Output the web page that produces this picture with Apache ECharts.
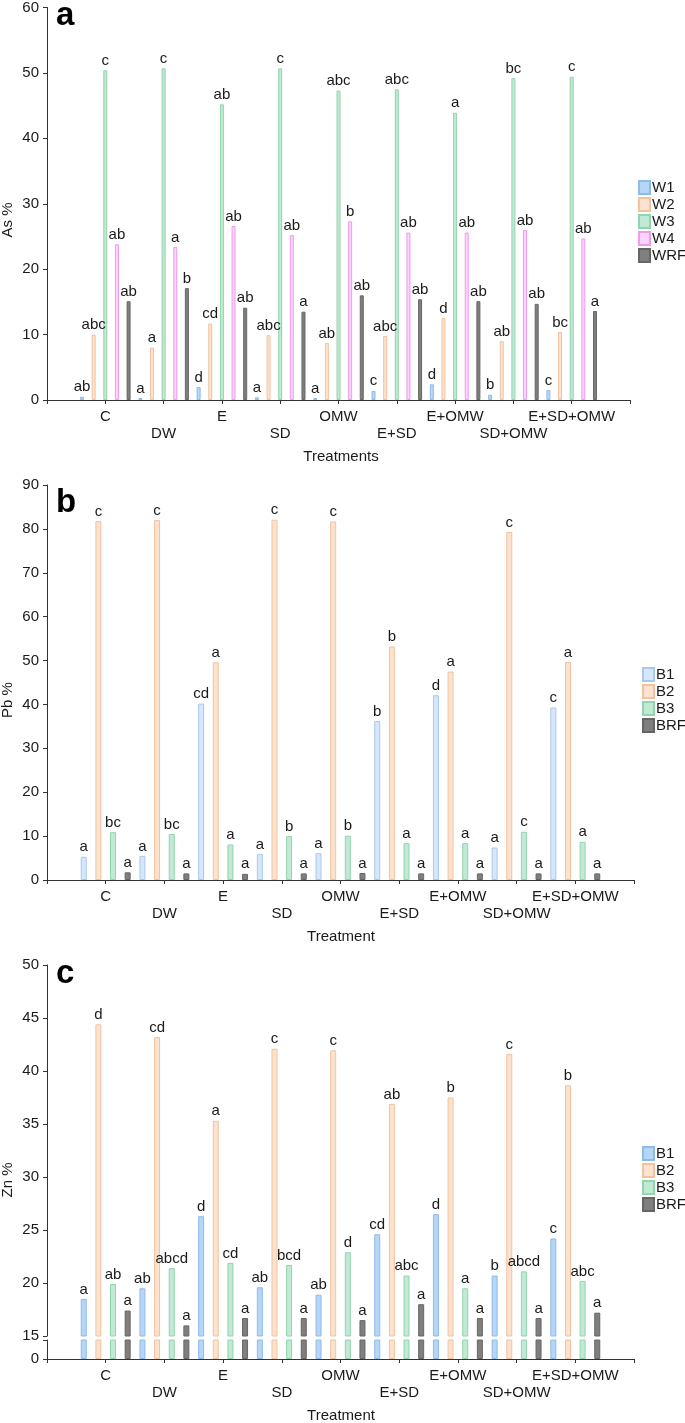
<!DOCTYPE html>
<html><head><meta charset="utf-8">
<script src="https://cdn.jsdelivr.net/npm/echarts@6/dist/echarts.min.js"></script>
<style>
html,body{margin:0;padding:0;background:#fff;width:685px;height:1423px;overflow:hidden}
.p{position:absolute;left:0;width:685px}
#pa{top:0;height:470px}#pb{top:470px;height:475px}#pc{top:945px;height:478px}
</style>
</head><body>
<div id="pa" class="p"></div><div id="pb" class="p"></div><div id="pc" class="p"></div>
<script>
// ---------- data ----------
const categories = ['C','DW','E','SD','OMW','E+SD','E+OMW','SD+OMW','E+SD+OMW'];

// Panel a: As %
const asW1  = [0.5, 0.3, 2.0, 0.4, 0.3, 1.4, 2.4, 0.8, 1.5];
const asW2  = [10.0, 8.0, 11.7, 9.9, 8.7, 9.8, 12.5, 9.0, 10.4];
const asW3  = [50.4, 50.7, 45.2, 50.7, 47.3, 47.5, 43.9, 49.2, 49.4];
const asW4  = [23.8, 23.4, 26.6, 25.2, 27.3, 25.6, 25.6, 26.0, 24.7];
const asWRF = [15.1, 17.1, 14.1, 13.5, 16.0, 15.4, 15.1, 14.7, 13.6];
const asW1Sig  = ['ab','a','d','a','a','c','d','b','c'];
const asW2Sig  = ['abc','a','cd','abc','ab','abc','d','ab','bc'];
const asW3Sig  = ['c','c','ab','c','abc','abc','a','bc','c'];
const asW4Sig  = ['ab','a','ab','ab','b','ab','ab','ab','ab'];
const asWRFSig = ['ab','b','ab','a','ab','ab','ab','ab','a'];

// Panel b: Pb %
const pbB1  = [5.3, 5.5, 40.2, 5.9, 6.1, 36.2, 42.1, 7.4, 39.3];
const pbB2  = [81.8, 82.0, 49.6, 82.1, 81.7, 53.2, 47.5, 79.3, 49.7];
const pbB3  = [10.9, 10.5, 8.1, 10.0, 10.1, 8.4, 8.4, 11.0, 8.7];
const pbBRF = [1.75, 1.5, 1.4, 1.5, 1.6, 1.5, 1.5, 1.5, 1.5];
const pbB1Sig  = ['a','a','cd','a','a','b','d','a','c'];
const pbB2Sig  = ['c','c','a','c','c','b','a','c','a'];
const pbB3Sig  = ['bc','bc','a','b','b','a','a','c','a'];
const pbBRFSig = ['a','a','a','a','a','a','a','a','a'];

// Panel c: Zn %
const znB1  = [18.5, 19.5, 26.3, 19.6, 18.9, 24.6, 26.5, 20.7, 24.2];
const znB2  = [44.4, 43.2, 35.3, 42.1, 41.95, 36.9, 37.5, 41.6, 38.65];
const znB3  = [19.9, 21.4, 21.9, 21.7, 22.9, 20.7, 19.5, 21.1, 20.2];
const znBRF = [17.4, 16.0, 16.7, 16.7, 16.5, 18.0, 16.7, 16.7, 17.2];
const znB1Sig  = ['a','ab','d','ab','ab','cd','d','b','c'];
const znB2Sig  = ['d','cd','a','c','c','ab','b','c','b'];
const znB3Sig  = ['ab','abcd','cd','bcd','d','abc','a','abcd','abc'];
const znBRFSig = ['a','a','a','a','a','a','a','a','a'];

const asTicks = [0, 60, 10];
const pbTicks = [0, 90, 10];
const znTicks = [15, 50, 5];

// ---------- styles ----------
const FONT = '"Liberation Sans", Arial, Helvetica, sans-serif';
const TXT = '#1a1a1a';
const AX = '#333';
const COL = {
  blue:  ['#b6d6f7', '#8fbbe9'],
  blueL: ['#d7e7fb', '#a9c8ee'],
  peach: ['#fde3cf', '#f3c29f'],
  green: ['#c1ead4', '#92d4ad'],
  pink:  ['#fcd3fb', '#ee9cee'],
  gray:  ['#7f7f7f', '#666666']
};
const axisCats = [''].concat(categories, ['']);
const pad = v => [null].concat(v, [null]);

function bar(name, values, sig, col, opt) {
  return {
    type: 'bar', name, data: pad(values),
    xAxisIndex: opt.xi || 0, yAxisIndex: opt.yi || 0,
    barWidth: opt.bw, barGap: opt.gap,
    itemStyle: { color: col[0], borderColor: col[1], borderWidth: 1 },
    label: sig ? { show: true, position: 'top', distance: 2, fontSize: 15, fontFamily: FONT, color: TXT,
      formatter: p => sig[p.dataIndex - 1] } : { show: false },
    silent: true
  };
}
function xCat(gridIndex, show) {
  return {
    type: 'category', gridIndex, data: axisCats, boundaryGap: false, show,
    axisLine: { show: true, lineStyle: { color: AX, width: 1 } },
    axisTick: { show: true, interval: 0, length: 4, lineStyle: { color: AX } },
    axisLabel: { interval: 0, margin: 8, fontSize: 15, lineHeight: 17, fontFamily: FONT, color: TXT,
      formatter: (v, i) => (i % 2 === 0 && v !== '') ? '\n' + v : v },
    splitLine: { show: false }
  };
}
function yVal(gridIndex, t, fmt) {
  return {
    type: 'value', gridIndex, min: t[0], max: t[1], interval: t[2],
    axisLine: { show: true, lineStyle: { color: AX, width: 1 } },
    axisTick: { show: true, length: 4, lineStyle: { color: AX } },
    axisLabel: { margin: 8, fontSize: 15, fontFamily: FONT, color: TXT, formatter: fmt },
    splitLine: { show: false }
  };
}
function legend(names, left, top) {
  return { data: names, orient: 'vertical', left, top, padding: 0, itemWidth: 11, itemHeight: 13, itemGap: 2,
    icon: 'rect', textStyle: { fontSize: 15, lineHeight: 15, fontFamily: FONT, color: TXT, padding: [0,0,0,-3] },
    selectedMode: false };
}
function texts(letter, ly, yname, yy, xname, xy) {
  return [
    { type: 'text', x: 56, y: ly, style: { text: letter, fontSize: 33, fontWeight: 'bold', fontFamily: FONT, fill: '#000', align: 'left', verticalAlign: 'middle' } },
    { type: 'text', x: 8, y: yy, rotation: Math.PI / 2, style: { text: yname, fontSize: 15, fontFamily: FONT, fill: TXT, align: 'center', verticalAlign: 'middle' } },
    { type: 'text', x: 341, y: xy, style: { text: xname, fontSize: 15, fontFamily: FONT, fill: TXT, align: 'center', verticalAlign: 'middle' } }
  ];
}

// ---------- panel a ----------
const ca = echarts.init(document.getElementById('pa'), null, { renderer: 'canvas' });
const oa = { bw: 4, gap: '191%' };
ca.setOption({
  animation: false,
  grid: { left: 47, top: 6, width: 583, height: 394 },
  xAxis: xCat(0, true),
  yAxis: yVal(0, asTicks),
  legend: legend(['W1','W2','W3','W4','WRF'], 638, 180),
  series: [
    bar('W1', asW1, asW1Sig, COL.blue, oa),
    bar('W2', asW2, asW2Sig, COL.peach, oa),
    bar('W3', asW3, asW3Sig, COL.green, oa),
    bar('W4', asW4, asW4Sig, COL.pink, oa),
    bar('WRF', asWRF, asWRFSig, COL.gray, oa)
  ],
  graphic: texts('a', 16, 'As %', 220, 'Treatments', 457)
});

// ---------- panel b ----------
const cb = echarts.init(document.getElementById('pb'), null, { renderer: 'canvas' });
const ob = { bw: 6, gap: '144%' };
cb.setOption({
  animation: false,
  grid: { left: 47, top: 15, width: 587, height: 395 },
  xAxis: xCat(0, true),
  yAxis: yVal(0, pbTicks),
  legend: legend(['B1','B2','B3','BRF'], 642, 197),
  series: [
    bar('B1', pbB1, pbB1Sig, COL.blueL, ob),
    bar('B2', pbB2, pbB2Sig, COL.peach, ob),
    bar('B3', pbB3, pbB3Sig, COL.green, ob),
    bar('BRF', pbBRF, pbBRFSig, COL.gray, ob)
  ],
  graphic: texts('b', 33, 'Pb %', 230, 'Treatment', 467)
});

// ---------- panel c (broken axis: two grids) ----------
const cc = echarts.init(document.getElementById('pc'), null, { renderer: 'canvas' });
const oc0 = { bw: 6, gap: '144%', xi: 0, yi: 0 };
const oc1 = { bw: 6, gap: '144%', xi: 1, yi: 1 };
const lowY = yVal(1, [0, 1.8, 1.8], v => (v === 0 ? '0' : ''));
cc.setOption({
  animation: false,
  grid: [
    { left: 47, top: 20, width: 587, height: 371 },
    { left: 47, top: 395, width: 587, height: 19 }
  ],
  xAxis: [xCat(0, false), xCat(1, true)],
  yAxis: [yVal(0, znTicks), lowY],
  legend: legend(['B1','B2','B3','BRF'], 642, 201),
  series: [
    bar('B1', znB1, znB1Sig, COL.blue, oc0),
    bar('B2', znB2, znB2Sig, COL.peach, oc0),
    bar('B3', znB3, znB3Sig, COL.green, oc0),
    bar('BRF', znBRF, znBRFSig, COL.gray, oc0),
    bar('B1', znB1, null, COL.blue, oc1),
    bar('B2', znB2, null, COL.peach, oc1),
    bar('B3', znB3, null, COL.green, oc1),
    bar('BRF', znBRF, null, COL.gray, oc1)
  ],
  graphic: texts('c', 29, 'Zn %', 235, 'Treatment', 471)
});
</script>
</body></html>
